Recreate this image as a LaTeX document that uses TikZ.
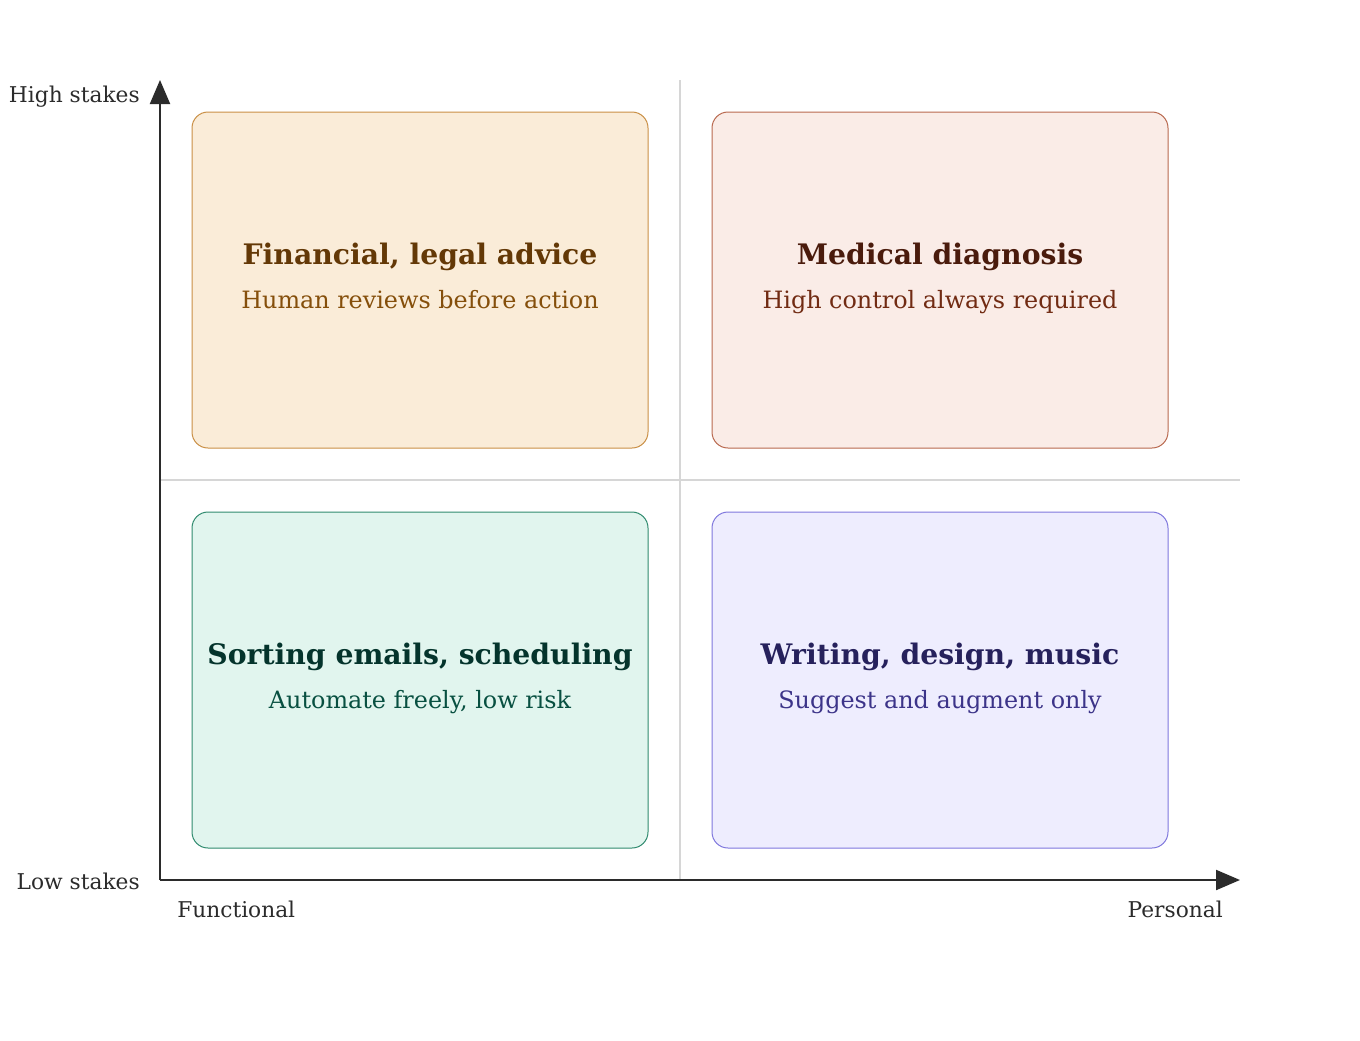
\documentclass[tikz,border=0pt]{standalone}
\usepackage{fontspec}
\setmainfont{DejaVu Serif}
\usetikzlibrary{arrows.meta,positioning}

\definecolor{axisgray}{HTML}{2B2B2B}
\definecolor{gridgray}{HTML}{D6D6D6}
\definecolor{amberfill}{HTML}{FAECD8}
\definecolor{amberline}{HTML}{C98F45}
\definecolor{amberdark}{HTML}{633806}
\definecolor{ambermid}{HTML}{854F0B}
\definecolor{coralfill}{HTML}{FAECE7}
\definecolor{coralline}{HTML}{B8684E}
\definecolor{coraldark}{HTML}{4A1B0C}
\definecolor{coralmid}{HTML}{712B13}
\definecolor{tealfill}{HTML}{E1F5EE}
\definecolor{tealline}{HTML}{2F8A6E}
\definecolor{tealdark}{HTML}{04342C}
\definecolor{tealmid}{HTML}{085041}
\definecolor{purplefill}{HTML}{EEEDFE}
\definecolor{purpleline}{HTML}{7F77DD}
\definecolor{purpledark}{HTML}{26215C}
\definecolor{purplemid}{HTML}{3C3489}

\begin{document}
\begin{tikzpicture}[x=0.75pt,y=-0.75pt,
  quad/.style={rounded corners=12pt,line width=0.75pt,minimum width=342pt,minimum height=252pt,inner sep=0pt},
  qtitle/.style={anchor=base,font=\fontsize{21.2}{25}\selectfont\bfseries},
  qsub/.style={anchor=base,font=\fontsize{17.9}{21}\selectfont},
  axlabel/.style={font=\fontsize{16.3}{19}\selectfont,text=axisgray,inner sep=0pt},
  axis/.style={draw=axisgray,line width=1.5pt,-{Triangle[length=18pt,width=15pt]}},
  grid/.style={draw=gridgray,line width=1pt},
]
\useasboundingbox (0,0) rectangle (1360,1040);

\coordinate (O) at (160,880);
\coordinate (ytop) at (160,80);
\coordinate (xend) at (1240,880);
\coordinate (midtop) at (680,80);
\coordinate (midbot) at (680,880);
\coordinate (midleft) at (160,480);
\coordinate (midright) at (1240,480);

% dividing lines
\draw[grid] (midtop) -- (midbot);
\draw[grid] (midleft) -- (midright);

% quadrants
\node[quad,draw=amberline,fill=amberfill] (fin) at (420,280) {};
\node[quad,draw=coralline,fill=coralfill] (med) at (940,280) {};
\node[quad,draw=tealline,fill=tealfill] (sort) at (420,680) {};
\node[quad,draw=purpleline,fill=purplefill] (write) at (940,680) {};

\node[qtitle,text=amberdark] (fint) at (420,264) {Financial, legal advice};
\node[qsub,text=ambermid] (fins) at (420,308) {Human reviews before action};
\node[qtitle,text=coraldark] (medt) at (940,264) {Medical diagnosis};
\node[qsub,text=coralmid] (meds) at (940,308) {High control always required};
\node[qtitle,text=tealdark] (sortt) at (420,664) {Sorting emails, scheduling};
\node[qsub,text=tealmid] (sorts) at (420,708) {Automate freely, low risk};
\node[qtitle,text=purpledark] (writet) at (940,664) {Writing, design, music};
\node[qsub,text=purplemid] (writes) at (940,708) {Suggest and augment only};

% axes
\draw[axis] (O) -- (ytop);
\draw[axis] (O) -- (xend);

\node[axlabel,anchor=east] (high) at (140,97) {High stakes};
\node[axlabel,anchor=east] (low) at (140,881) {Low stakes};
\node[axlabel,anchor=west] (func) at (177,909) {Functional};
\node[axlabel,anchor=east] (pers) at (1223,909) {Personal};
\end{tikzpicture}
\end{document}
